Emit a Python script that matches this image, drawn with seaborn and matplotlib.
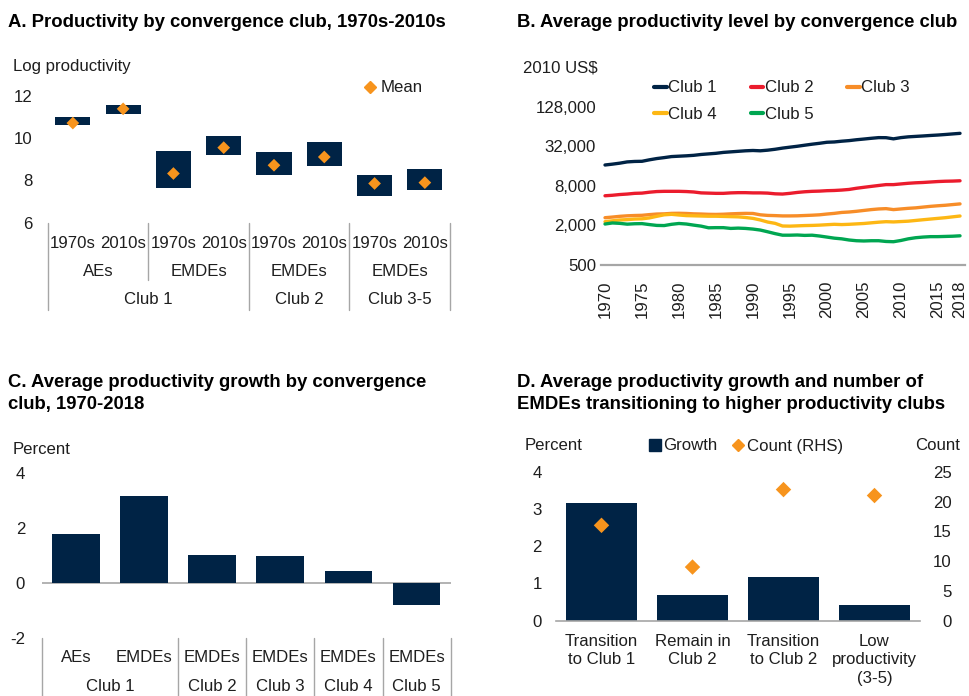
import numpy as np
import pandas as pd
import matplotlib
matplotlib.use("Agg")
import matplotlib.pyplot as plt
import matplotlib.transforms as mtransforms
from matplotlib.lines import Line2D
from matplotlib.ticker import FuncFormatter, NullLocator
import seaborn as sns

# ---------------- data ----------------
# Panel A: interquartile boxes and means of log productivity
a_periods = ["1970s", "2010s"] * 4
a_groups = ["AEs", "AEs", "EMDEs", "EMDEs", "EMDEs", "EMDEs", "EMDEs", "EMDEs"]
a_clubs = ["Club 1", "Club 1", "Club 1", "Club 1", "Club 2", "Club 2", "Club 3-5", "Club 3-5"]
a_low = [10.59, 11.14, 7.64, 9.18, 8.24, 8.69, 7.28, 7.53]
a_high = [10.98, 11.56, 9.38, 10.10, 9.32, 9.81, 8.27, 8.52]
a_mean = [10.70, 11.37, 8.32, 9.54, 8.71, 9.10, 7.85, 7.89]

# Panel B: average productivity level (2010 US$)
years = list(range(1970, 2019))
b_xticks = [1970, 1975, 1980, 1985, 1990, 1995, 2000, 2005, 2010, 2015, 2018]
b_yticks = [500, 2000, 8000, 32000, 128000]
club1 = [16600, 17100, 17700, 18500, 18800, 18900, 19900, 20800, 21500, 22300,
         22600, 22900, 23300, 24000, 24500, 25000, 25800, 26300, 26800, 27300,
         27600, 27300, 27900, 28800, 30000, 31000, 32000, 33200, 34400, 35500,
         36800, 37200, 38200, 39000, 40200, 41200, 42300, 43300, 43200, 41500,
         43300, 44500, 45200, 45900, 46700, 47400, 48300, 49300, 50300]
club2 = [5650, 5750, 5900, 6000, 6150, 6200, 6400, 6550, 6600, 6600,
         6600, 6550, 6450, 6250, 6200, 6150, 6150, 6250, 6300, 6300,
         6250, 6250, 6200, 6050, 6000, 6150, 6350, 6500, 6600, 6650,
         6750, 6800, 6900, 7050, 7350, 7600, 7850, 8100, 8350, 8350,
         8550, 8750, 8900, 9000, 9150, 9300, 9400, 9450, 9550]
club3 = [2620, 2680, 2750, 2800, 2830, 2850, 2920, 2980, 3000, 3050,
         3060, 3040, 3000, 2980, 2950, 2940, 2960, 3000, 3030, 3050,
         3040, 2900, 2840, 2820, 2790, 2790, 2800, 2830, 2860, 2900,
         2980, 3050, 3150, 3200, 3280, 3380, 3480, 3560, 3600, 3480,
         3560, 3640, 3700, 3800, 3900, 3980, 4050, 4150, 4250]
club4 = [2280, 2350, 2420, 2450, 2500, 2520, 2600, 2750, 2900, 2950,
         2880, 2820, 2800, 2780, 2760, 2760, 2740, 2720, 2700, 2640,
         2560, 2420, 2250, 2150, 1960, 1950, 1970, 1990, 2000, 2020,
         2050, 2080, 2060, 2080, 2110, 2140, 2190, 2240, 2280, 2260,
         2290, 2320, 2380, 2440, 2500, 2560, 2620, 2700, 2780]
club5 = [2100, 2180, 2150, 2090, 2120, 2130, 2060, 2000, 1990, 2080,
         2140, 2100, 2020, 1950, 1840, 1850, 1850, 1800, 1820, 1800,
         1760, 1700, 1600, 1500, 1420, 1420, 1430, 1410, 1420, 1380,
         1330, 1280, 1250, 1200, 1170, 1160, 1170, 1170, 1140, 1130,
         1180, 1250, 1300, 1330, 1350, 1350, 1360, 1370, 1390]
b_names = ["Club 1", "Club 2", "Club 3", "Club 4", "Club 5"]
b_colors = ["#002345", "#EB1C2D", "#F78D28", "#FDB714", "#00A651"]

# Panel C: average productivity growth, 1970-2018 (percent)
c_groups = ["AEs", "EMDEs", "EMDEs", "EMDEs", "EMDEs", "EMDEs"]
c_clubs = ["Club 1", "Club 1", "Club 2", "Club 3", "Club 4", "Club 5"]
c_growth = [1.80, 3.16, 1.02, 0.99, 0.45, -0.81]

# Panel D: growth (percent, LHS) and number of EMDEs (RHS)
d_cats = ["Transition\nto Club 1", "Remain in\nClub 2", "Transition\nto Club 2", "Low\nproductivity\n(3-5)"]
d_growth = [3.17, 0.70, 1.18, 0.43]
d_count = [16, 9, 22, 21]

# ---------------- style ----------------
sns.set_theme(style="white")
plt.rcParams["font.family"] = ["Liberation Sans", "DejaVu Sans"]
plt.rcParams["axes.unicode_minus"] = False

NAVY = "#002345"
ORANGE = "#F7941D"
RULE = "#A6A6A6"
TXT = "#1E1E1E"
FS = 12.1
TFS = 13.3

W, H = 969, 696
fig = plt.figure(figsize=(W / 100, H / 100), dpi=100)
fig.patch.set_facecolor("white")


def axes_px(left, top, right, bottom):
    return fig.add_axes([left / W, 1 - bottom / H, (right - left) / W, (bottom - top) / H])


def fig_text(x, y, s, **kw):
    kw.setdefault("color", TXT)
    kw.setdefault("fontsize", FS)
    return fig.text(x / W, 1 - y / H, s, **kw)


def clean(ax):
    for sp in ax.spines.values():
        sp.set_visible(False)
    ax.set_xlabel("")
    ax.set_ylabel("")


def runs(labels):
    """Return (start, end, label) for consecutive runs of equal labels."""
    out, start = [], 0
    for i in range(1, len(labels) + 1):
        if i == len(labels) or labels[i] != labels[start]:
            out.append((start, i - 1, labels[start]))
            start = i
    return out


def vline(trans, x, y0, y1):
    fig.add_artist(Line2D([x, x], [1 - y0 / H, 1 - y1 / H], transform=trans,
                          color=RULE, lw=1.0, clip_on=False))


def table_text(trans, x, y, s):
    fig.text(x, 1 - y / H, s, transform=trans, ha="center", va="center",
             fontsize=FS, color=TXT)


# ---------------- Panel A ----------------
fig_text(8, 27, "A. Productivity by convergence club, 1970s-2010s",
         fontsize=TFS, fontweight="bold", va="baseline", color="black")
axA = axes_px(47.7, 74.3, 450, 222.7)
posA = np.arange(len(a_low))
axA.bar(posA, np.subtract(a_high, a_low), bottom=a_low, width=0.7,
        color=NAVY, edgecolor="none")
sns.scatterplot(x=posA, y=a_mean, marker="D", s=42, color=ORANGE,
                edgecolor="none", ax=axA, legend=False, zorder=3)
axA.set_xlim(-0.5, len(posA) - 0.5)
axA.set_ylim(6, 13)
axA.set_yticks([6, 8, 10, 12])
axA.set_xticks([])
clean(axA)
axA.tick_params(axis="y", length=0, pad=10.8, labelsize=FS, labelcolor=TXT)
fig_text(13, 67, "Log productivity", va="center")
axA.legend(handles=[Line2D([], [], marker="D", color=ORANGE, ls="none", markersize=6.5)],
           labels=["Mean"], loc="center left", bbox_to_anchor=(363.5 / W, 1 - 88 / H),
           bbox_transform=fig.transFigure, frameon=False, fontsize=FS,
           handlelength=0.8, handletextpad=0.2, borderpad=0, borderaxespad=0,
           labelcolor=TXT)

tA = mtransforms.blended_transform_factory(axA.transData, fig.transFigure)
club_runs = runs(a_clubs)
grp_runs = runs([c + g for c, g in zip(a_clubs, a_groups)])
club_edges = {-0.5} | {e + 0.5 for _, e, _ in club_runs}
for x in sorted(club_edges):
    vline(tA, x, 222.7, 310)
for s, e, _ in grp_runs:
    if e + 0.5 not in club_edges:
        vline(tA, e + 0.5, 222.7, 280)
for i, p in enumerate(a_periods):
    table_text(tA, i, 243, p)
for s, e, _ in grp_runs:
    table_text(tA, (s + e) / 2, 272, a_groups[s])
for s, e, lab in club_runs:
    table_text(tA, (s + e) / 2, 300, lab)

# ---------------- Panel B ----------------
fig_text(517, 27, "B. Average productivity level by convergence club",
         fontsize=TFS, fontweight="bold", va="baseline", color="black")
axB = axes_px(601.3, 67.1, 965.2, 265)
dfB = pd.DataFrame({
    "Year": years * 5,
    "Value": club1 + club2 + club3 + club4 + club5,
    "Club": sum([[n] * len(years) for n in b_names], []),
})
sns.lineplot(data=dfB, x="Year", y="Value", hue="Club", hue_order=b_names,
             palette=b_colors, linewidth=2.4, ax=axB, legend=False)
axB.set_yscale("log", base=2)
axB.set_ylim(500, 512000)
axB.set_yticks(b_yticks)
axB.yaxis.set_minor_locator(NullLocator())
axB.yaxis.set_major_formatter(FuncFormatter(lambda v, p: f"{int(round(v)):,}"))
axB.set_xlim(1969.5, 2018.7)
axB.set_xticks(b_xticks)
axB.set_xticklabels([str(y) for y in b_xticks])
clean(axB)
axB.spines["bottom"].set_visible(True)
axB.spines["bottom"].set_color(RULE)
axB.spines["bottom"].set_linewidth(1.6)
axB.tick_params(axis="y", length=0, pad=3.8, labelsize=FS, labelcolor=TXT)
axB.tick_params(axis="x", length=0, pad=11, labelsize=FS, labelcolor=TXT, rotation=90)
fig_text(523, 68, "2010 US$", va="center")
order = [0, 3, 1, 4, 2]
hB = [Line2D([], [], color=b_colors[i], lw=3) for i in order]
axB.legend(handles=hB, labels=[b_names[i] for i in order], ncol=3,
           loc="upper left", bbox_to_anchor=(654 / W, 1 - 80.5 / H),
           bbox_transform=fig.transFigure, frameon=False, fontsize=FS,
           handlelength=0.75, handletextpad=0.1, columnspacing=2.0,
           labelspacing=0.68, borderpad=0, borderaxespad=0, labelcolor=TXT)

# ---------------- Panel C ----------------
fig_text(8, 373.6, "C. Average productivity growth by convergence\nclub, 1970-2018",
         fontsize=TFS, fontweight="bold", va="top", linespacing=1.45, color="black")
axC = axes_px(41.7, 473, 450.7, 638)
c_keys = [c + " " + g for c, g in zip(c_clubs, c_groups)]
sns.barplot(x=c_keys, y=c_growth, color=NAVY, width=0.7, saturation=1,
            edgecolor="none", ax=axC)
axC.axhline(0, color=RULE, lw=1.2, zorder=0)
axC.set_ylim(-2, 4)
axC.set_yticks([-2, 0, 2, 4])
axC.set_xticks([])
clean(axC)
axC.tick_params(axis="y", length=0, pad=12, labelsize=FS, labelcolor=TXT)
fig_text(13, 449, "Percent", va="center")
tC = mtransforms.blended_transform_factory(axC.transData, fig.transFigure)
c_club_runs = runs(c_clubs)
for x in sorted({-0.5} | {e + 0.5 for _, e, _ in c_club_runs}):
    vline(tC, x, 638, 700)
for i, g in enumerate(c_groups):
    table_text(tC, i, 657.7, g)
for s, e, lab in c_club_runs:
    table_text(tC, (s + e) / 2, 686.7, lab)

# ---------------- Panel D ----------------
fig_text(517, 373.6, "D. Average productivity growth and number of\nEMDEs transitioning to higher productivity clubs",
         fontsize=TFS, fontweight="bold", va="top", linespacing=1.45, color="black")
axD = axes_px(556, 471.7, 920, 620.7)
sns.barplot(x=d_cats, y=d_growth, color=NAVY, width=0.77, saturation=1,
            edgecolor="none", ax=axD)
axD.set_ylim(0, 4)
axD.set_yticks([0, 1, 2, 3, 4])
clean(axD)
axD.spines["bottom"].set_visible(True)
axD.spines["bottom"].set_color(RULE)
axD.spines["bottom"].set_linewidth(1.2)
axD.tick_params(axis="y", length=0, pad=10.3, labelsize=FS, labelcolor=TXT)
axD.tick_params(axis="x", length=0, pad=9.5, labelsize=FS, labelcolor=TXT)
for lab in axD.get_xticklabels():
    lab.set_linespacing(1.3)

axR = axD.twinx()
sns.scatterplot(x=np.arange(len(d_count)), y=d_count, marker="D", s=62,
                color=ORANGE, edgecolor="none", ax=axR, legend=False, zorder=3)
axR.set_ylim(0, 25)
axR.set_yticks([0, 5, 10, 15, 20, 25])
clean(axR)
axR.tick_params(axis="y", length=0, pad=23, labelsize=FS, labelcolor=TXT)
for lab in axR.get_yticklabels():
    lab.set_horizontalalignment("right")
axD.set_xlim(-0.5, len(d_cats) - 0.5)

fig_text(525, 446, "Percent", va="center")
fig_text(960, 446, "Count", va="center", ha="right")
hD = [Line2D([], [], marker="s", color=NAVY, ls="none", markersize=8),
      Line2D([], [], marker="D", color=ORANGE, ls="none", markersize=6.5)]
axR.legend(handles=hD, labels=["Growth", "Count (RHS)"], ncol=2,
           loc="center left", bbox_to_anchor=(648 / W, 1 - 446 / H),
           bbox_transform=fig.transFigure, frameon=False, fontsize=FS,
           handlelength=0.8, handletextpad=0.12, columnspacing=0.8,
           borderpad=0, borderaxespad=0, labelcolor=TXT)

fig.savefig("out.png", dpi=100, facecolor="white")
